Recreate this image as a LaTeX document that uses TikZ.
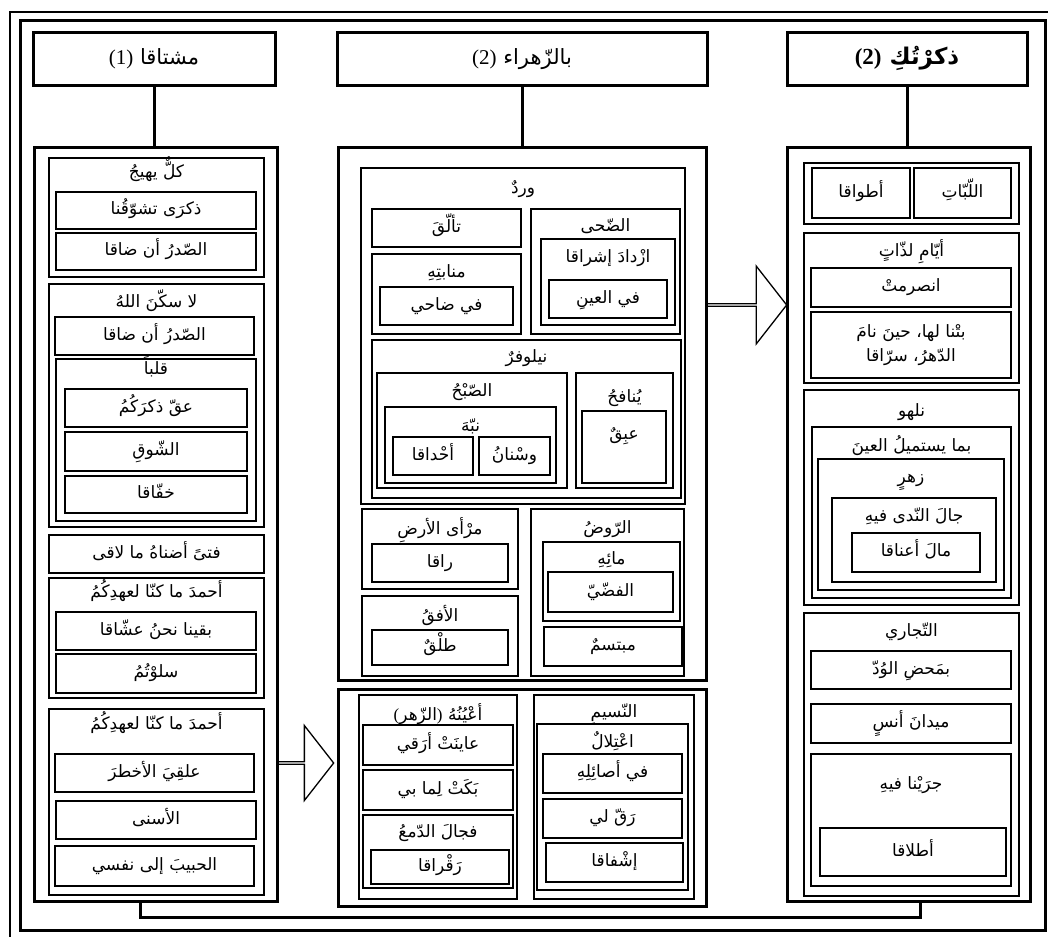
\documentclass[tikz,border=0pt]{standalone}
\usepackage{fontspec}
\setmainfont{Liberation Serif}
\newfontfamily\arabicfont[Script=Arabic]{DejaVu Sans}
\TeXXeTstate=1
\usetikzlibrary{positioning,shapes.arrows}

\begin{document}
\begin{tikzpicture}[
    x=1pt, y=-1pt,
    area/.style n args={4}{at={({(#1+#3)/2},{(#2+#4)/2})}, minimum width={#3-#1}, minimum height={#4-#2}},
    frame/.style={draw, line width=3pt, inner sep=0pt},
    head/.style={frame, font=\arabicfont\fontsize{21}{24}\selectfont, text height=15pt, text depth=4pt},
    box/.style={draw, line width=1.1pt, inner sep=0pt, font=\arabicfont\fontsize{17}{20}\selectfont, text height=11pt, text depth=3pt},
    ttl/.style={anchor=north, inner sep=13pt, font=\arabicfont\fontsize{17}{20}\selectfont, text height=11pt, text depth=3pt},
    conn/.style={line width=3pt},
    bigarrow/.style={single arrow, draw, line width=1.3pt, inner sep=0pt, single arrow tip angle=104, single arrow head extend=20pt}
]
    \useasboundingbox (0,0) rectangle (1048,936);
    \clip (0,0) rectangle (1048,936);
    \draw[line width=1.5pt] (10,12) rectangle (1070,960);
    \draw[line width=3pt] (20,21) rectangle (1045,930);

    % Headers
    \node[head, area={33}{33}{275}{86}] (hl) {{\rmfamily (1)} \beginR مشتاقا\endR};
    \node[head, area={337}{33}{707}{86}] (hm) {{\rmfamily (2)} \beginR بالزّهراء\endR};
    \node[head, area={787}{33}{1027}{86}, font=\arabicfont\fontsize{23}{26}\selectfont\bfseries] (hr) {{\rmfamily\bfseries (2)} \beginR ذكرْتُكِ\endR};

    % Columns
    \node[frame, area={34}{148}{277}{901}] (lcol) {};
    \node[frame, area={338}{148}{706}{680}] (mup) {};
    \node[frame, area={338}{689}{706}{906}] (mlow) {};
    \node[frame, area={787}{148}{1030}{901}] (rcol) {};

    % Left column
    \node[box, area={49}{158}{264}{277}, label={[ttl, inner sep=9pt]north:\beginR كلٌّ يهيجُ\endR}] (kull) {};
    \node[box, area={56}{192}{256}{229}] (dhikra) {\beginR ذكرَى تشوّقُنا\endR};
    \node[box, area={56}{233}{256}{270}] (sadr1) {\beginR الصّدرُ أن ضاقا\endR};
    \node[box, area={49}{284}{264}{527}, label={[ttl]north:\beginR لا سكّنَ اللهُ\endR}] (sakkana) {};
    \node[box, area={55}{317}{254}{355}] (sadr2) {\beginR الصّدرُ أن ضاقا\endR};
    \node[box, area={56}{359}{256}{521}, label={[ttl, inner sep=5pt]north:\beginR قلباً\endR}] (qalb) {};
    \node[box, area={65}{389}{247}{427}] (aqqa) {\beginR عقّ ذكرَكُمُ\endR};
    \node[box, area={65}{432}{247}{471}] (shawq) {\beginR الشّوقِ\endR};
    \node[box, area={65}{476}{247}{513}] (khaffaq) {\beginR خفّاقا\endR};
    \node[box, area={49}{535}{264}{573}] (fatan) {\beginR فتىً أضناهُ ما لاقى\endR};
    \node[box, area={49}{578}{264}{698}, label={[ttl, inner sep=9pt]north:\beginR أحمدَ ما كنّا لعهدِكُمُ\endR}] (ahmad1) {};
    \node[box, area={56}{612}{256}{650}] (baqina) {\beginR بقينا نحنُ عشّاقا\endR};
    \node[box, area={56}{654}{256}{693}] (salawtum) {\beginR سلوْتُمُ\endR};
    \node[box, area={49}{709}{264}{895}, label={[ttl, inner sep=10pt]north:\beginR أحمدَ ما كنّا لعهدِكُمُ\endR}] (ahmad2) {};
    \node[box, area={55}{754}{254}{792}] (ilq) {\beginR علقِيَ الأخطرَ\endR};
    \node[box, area={56}{801}{256}{839}] (asna) {\beginR الأسنى\endR};
    \node[box, area={55}{846}{254}{886}] (habib) {\beginR الحبيبَ إلى نفسي\endR};

    % Middle column, upper part
    \node[box, area={361}{168}{685}{504}, label={[ttl, inner sep=15pt]north:\beginR وردٌ\endR}] (ward) {};
    \node[box, area={372}{209}{521}{247}] (taallaqa) {\beginR تألّقَ\endR};
    \node[box, area={372}{254}{521}{334}, label={[ttl]north:\beginR منابتِهِ\endR}] (manabit) {};
    \node[box, area={380}{287}{513}{325}] (dahi) {\beginR في ضاحي\endR};
    \node[box, area={531}{209}{680}{334}, label={[ttl, inner sep=12pt]north:\beginR الضّحى\endR}] (duha) {};
    \node[box, area={541}{239}{675}{325}, label={[ttl]north:\beginR ازْدادَ إشراقا\endR}] (izdad) {};
    \node[box, area={549}{280}{667}{318}] (ayn) {\beginR في العينِ\endR};
    \node[box, area={372}{340}{681}{498}, label={[ttl, inner sep=12pt]north:\beginR نيلوفرٌ\endR}] (nilufar) {};
    \node[box, area={377}{373}{567}{488}, label={[ttl]north:\beginR الصّبْحُ\endR}] (subh) {};
    \node[box, area={385}{407}{556}{483}, label={[ttl, inner sep=14pt]north:\beginR نبّهَ\endR}] (nabbaha) {};
    \node[box, area={393}{437}{473}{475}] (ahdaq) {\beginR أحْداقا\endR};
    \node[box, area={479}{437}{550}{475}] (wasnan) {\beginR وسْنانُ\endR};
    \node[box, area={576}{373}{673}{488}, label={[ttl, inner sep=19pt]north:\beginR يُنافحُ\endR}] (yunafih) {};
    \node[box, area={582}{411}{666}{483}, label={[ttl, inner sep=18pt]north:\beginR عبِقٌ\endR}] (abiq) {};
    \node[box, area={531}{509}{684}{676}, label={[ttl, inner sep=14pt]north:\beginR الرّوضُ\endR}] (rawd) {};
    \node[box, area={543}{542}{680}{621}, label={[ttl, inner sep=12pt]north:\beginR مائِهِ\endR}] (maih) {};
    \node[box, area={548}{572}{673}{612}, line width=2.6pt] (fiddi) {\beginR الفضّيّ\endR};
    \node[box, area={544}{627}{682}{666}] (mubtasim) {\beginR مبتسمٌ\endR};
    \node[box, area={362}{509}{518}{589}, label={[ttl, inner sep=15pt]north:\beginR مرْأى الأرضِ\endR}] (mara) {};
    \node[box, area={372}{544}{508}{582}] (raqa) {\beginR راقا\endR};
    \node[box, area={362}{596}{518}{676}, label={[ttl, inner sep=15pt]north:\beginR الأفقُ\endR}] (ufuq) {};
    \node[box, area={372}{630}{508}{665}] (talq) {\beginR طلْقٌ\endR};

    % Middle column, lower part
    \node[box, area={359}{695}{517}{899}, label={[ttl, inner sep=15pt]north:{\rmfamily(}\beginR الزّهر\endR{\rmfamily)} \beginR أعْيُنُهُ\endR}] (ayun) {};
    \node[box, area={363}{725}{513}{765}] (ayanat) {\beginR عاينَتْ أرَقي\endR};
    \node[box, area={363}{770}{513}{810}] (bakat) {\beginR بَكَتْ لِما بي\endR};
    \node[box, area={363}{815}{513}{888}, label={[ttl, inner sep=12pt]north:\beginR فجالَ الدّمعُ\endR}] (dam) {};
    \node[box, area={371}{850}{509}{884}] (raqraq) {\beginR رَقْراقا\endR};
    \node[box, area={534}{695}{694}{899}, label={[ttl, inner sep=12pt]north:\beginR النّسيمِ\endR}] (nasim) {};
    \node[box, area={537}{724}{688}{890}, label={[ttl]north:\beginR اعْتِلالٌ\endR}] (itilal) {};
    \node[box, area={543}{754}{682}{793}] (asail) {\beginR في أصائِلِهِ\endR};
    \node[box, area={543}{799}{682}{838}] (raqqa) {\beginR رَقّ لي\endR};
    \node[box, area={546}{843}{683}{882}] (ishfaq) {\beginR إشْفاقا\endR};

    % Right column
    \node[box, area={804}{163}{1019}{224}] (pair) {};
    \node[box, area={812}{168}{910}{218}] (atwaq) {\beginR أطواقا\endR};
    \node[box, area={914}{168}{1011}{218}] (labbat) {\beginR اللّبّاتِ\endR};
    \node[box, area={804}{233}{1019}{383}, label={[ttl]north:\beginR أيّامِ لذّاتٍ\endR}] (ayyam) {};
    \node[box, area={811}{268}{1011}{307}] (insaramat) {\beginR انصرمتْ\endR};
    \node[box, area={811}{312}{1011}{378}, align=center, text height=, text depth=] (bitna) {\beginR بتْنا لها، حينَ نامَ\endR\\[4pt]\beginR الدّهرُ، سرّاقا\endR};
    \node[box, area={804}{390}{1019}{605}, label={[ttl, inner sep=16pt]north:\beginR نلهو\endR}] (nalhu) {};
    \node[box, area={812}{427}{1011}{598}, label={[ttl, inner sep=14pt]north:\beginR بما يستميلُ العينَ\endR}] (yastamil) {};
    \node[box, area={818}{459}{1004}{590}, label={[ttl]north:\beginR زهرٍ\endR}] (zahr) {};
    \node[box, area={832}{498}{996}{582}, label={[ttl]north:\beginR جالَ النّدى فيهِ\endR}] (nada) {};
    \node[box, area={852}{533}{980}{572}] (aanaq) {\beginR مالَ أعناقا\endR};
    \node[box, area={804}{613}{1019}{896}, label={[ttl]north:\beginR التّجاري\endR}] (tajari) {};
    \node[box, area={811}{651}{1011}{689}] (wudd) {\beginR بمَحضِ الوُدّ\endR};
    \node[box, area={811}{704}{1011}{743}] (maydan) {\beginR ميدانَ أنسٍ\endR};
    \node[box, area={811}{754}{1011}{886}, label={[ttl, inner sep=25pt]north:\beginR جرَيْنا فيهِ\endR}] (jarayna) {};
    \node[box, area={820}{828}{1006}{876}] (atlaq) {\beginR أطلاقا\endR};

    % Arrows
    \node[bigarrow, minimum height=56pt, minimum width=75pt, anchor=tail] (arr1) at (277,763) {};
    \node[bigarrow, minimum height=80pt, minimum width=78pt, anchor=tail] (arr2) at (706,305) {};

    % Connectors
    \coordinate (bus) at (500,917);
    \draw[conn] (hl.south) -- (hl.south |- lcol.north);
    \draw[conn] (hm.south) -- (hm.south |- mup.north);
    \draw[conn] (hr.south) -- (hr.south |- rcol.north);
    \draw[conn] ([xshift=-15pt]lcol.south) |- (bus) -| ([xshift=12pt]rcol.south);
\end{tikzpicture}
\end{document}
